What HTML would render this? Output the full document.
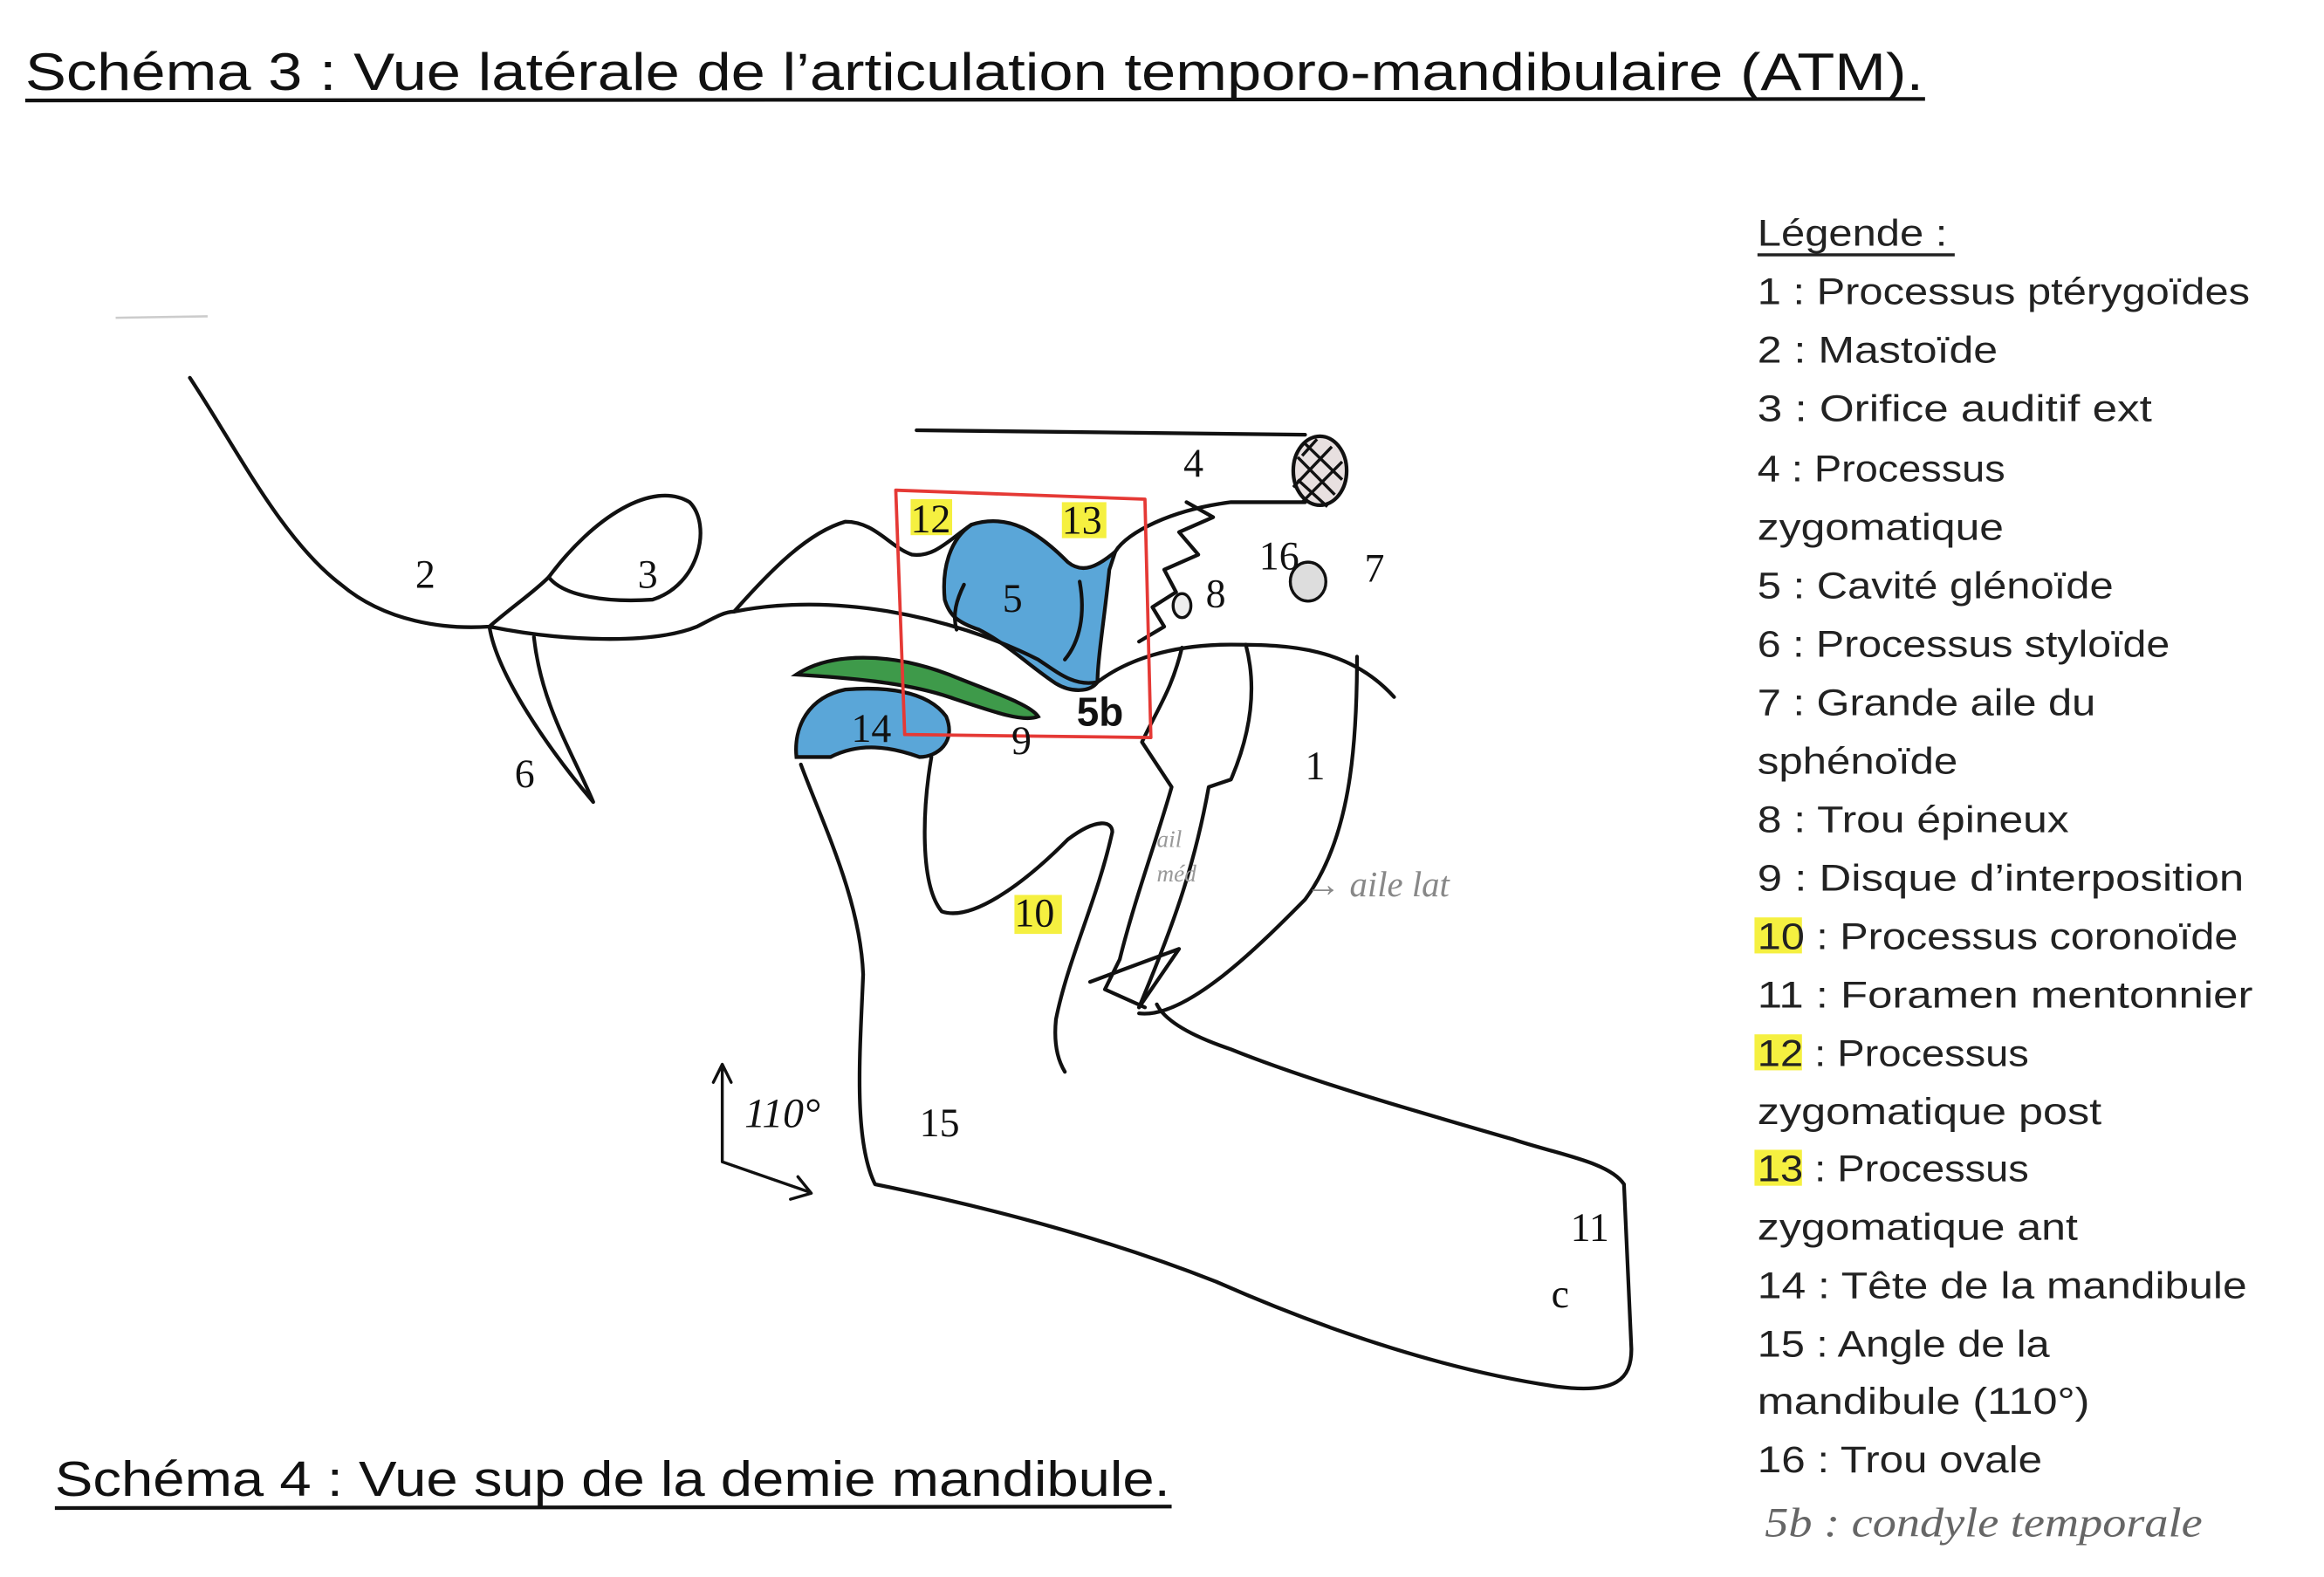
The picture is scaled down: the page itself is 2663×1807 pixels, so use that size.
<!DOCTYPE html>
<html><head><meta charset="utf-8"><style>
html,body{margin:0;padding:0;background:#fff;}
svg{display:block;}
</style></head><body>
<svg width="2663" height="1807" viewBox="0 0 1567 1052" preserveAspectRatio="none" xmlns="http://www.w3.org/2000/svg">
<rect width="1567" height="1052" fill="#fff"/>
<g font-family="Liberation Sans, sans-serif" fill="#111">
<text x="17" y="60" font-size="35" textLength="1280" lengthAdjust="spacingAndGlyphs">Schéma 3 : Vue latérale de l’articulation temporo-mandibulaire (ATM).</text>
<line x1="17" y1="67" x2="1298" y2="66" stroke="#111" stroke-width="2.5"/>
<text x="37" y="998" font-size="33" textLength="752" lengthAdjust="spacingAndGlyphs">Schéma 4 : Vue sup de la demie mandibule.</text>
<line x1="37" y1="1006" x2="790" y2="1005" stroke="#111" stroke-width="2.5"/>
</g>
<g font-family="Liberation Sans, sans-serif" fill="#222" font-size="25" lengthAdjust="spacingAndGlyphs">
<text x="1185" y="164" textLength="128" lengthAdjust="spacingAndGlyphs">Légende :</text>
<line x1="1185" y1="170" x2="1318" y2="170" stroke="#222" stroke-width="2"/>
<rect x="1183" y="612" width="32" height="24" fill="#f5f040"/>
<rect x="1183" y="690" width="32" height="24" fill="#f5f040"/>
<rect x="1183" y="767" width="32" height="24" fill="#f5f040"/>
<text x="1185" y="203" textLength="332" lengthAdjust="spacingAndGlyphs">1 : Processus ptérygoïdes</text>
<text x="1185" y="242" textLength="162" lengthAdjust="spacingAndGlyphs">2 : Mastoïde</text>
<text x="1185" y="281" textLength="266" lengthAdjust="spacingAndGlyphs">3 : Orifice auditif ext</text>
<text x="1185" y="321" textLength="167" lengthAdjust="spacingAndGlyphs">4 : Processus</text>
<text x="1185" y="360" textLength="166" lengthAdjust="spacingAndGlyphs">zygomatique</text>
<text x="1185" y="399" textLength="240" lengthAdjust="spacingAndGlyphs">5 : Cavité glénoïde</text>
<text x="1185" y="438" textLength="278" lengthAdjust="spacingAndGlyphs">6 : Processus styloïde</text>
<text x="1185" y="477" textLength="228" lengthAdjust="spacingAndGlyphs">7 : Grande aile du</text>
<text x="1185" y="516" textLength="135" lengthAdjust="spacingAndGlyphs">sphénoïde</text>
<text x="1185" y="555" textLength="210" lengthAdjust="spacingAndGlyphs">8 : Trou épineux</text>
<text x="1185" y="594" textLength="328" lengthAdjust="spacingAndGlyphs">9 : Disque d’interposition</text>
<text x="1185" y="633" textLength="324" lengthAdjust="spacingAndGlyphs">10 : Processus coronoïde</text>
<text x="1185" y="672" textLength="334" lengthAdjust="spacingAndGlyphs">11 : Foramen mentonnier</text>
<text x="1185" y="711" textLength="183" lengthAdjust="spacingAndGlyphs">12 : Processus</text>
<text x="1185" y="750" textLength="232" lengthAdjust="spacingAndGlyphs">zygomatique post</text>
<text x="1185" y="788" textLength="183" lengthAdjust="spacingAndGlyphs">13 : Processus</text>
<text x="1185" y="827" textLength="216" lengthAdjust="spacingAndGlyphs">zygomatique ant</text>
<text x="1185" y="866" textLength="330" lengthAdjust="spacingAndGlyphs">14 : Tête de la mandibule</text>
<text x="1185" y="905" textLength="197" lengthAdjust="spacingAndGlyphs">15 : Angle de la</text>
<text x="1185" y="943" textLength="224" lengthAdjust="spacingAndGlyphs">mandibule (110°)</text>
<text x="1185" y="982" textLength="192" lengthAdjust="spacingAndGlyphs">16 : Trou ovale</text>
</g>
<text x="1190" y="1025" font-family="Liberation Serif, serif" font-style="italic" font-size="28" fill="#666" textLength="295" lengthAdjust="spacingAndGlyphs">5b : condyle temporale</text>
<g fill="#f5f040">
<rect x="614" y="333" width="28" height="24"/>
<rect x="716" y="335" width="30" height="24"/>
<rect x="684" y="597" width="32" height="26"/>
</g>
<path d="M655,350 C680,342 700,355 720,375 C730,383 740,378 752,368 L748,380 C745,410 740,440 740,455 C735,462 722,462 712,456 C695,445 680,430 660,420 C645,415 640,410 637,400 C635,380 640,360 655,350 Z" fill="#5aa6d8" stroke="#111" stroke-width="2.5"/>
<path d="M537,450 C560,435 600,435 640,450 C670,462 695,470 700,478 C690,482 670,475 640,465 C610,455 570,452 537,450 Z" fill="#3e9a4a" stroke="#111" stroke-width="2.5"/>
<path d="M537,505 C535,485 545,465 570,460 C595,458 625,460 638,478 C645,495 632,505 620,505 C600,498 580,495 560,505 Z" fill="#5aa6d8" stroke="#111" stroke-width="2.5"/>
<g fill="none" stroke="#111" stroke-width="2.5" stroke-linecap="round" stroke-linejoin="round">
<path d="M128,252 C160,300 190,360 230,390 C260,415 300,420 330,418 C345,405 360,395 370,385"/>
<path d="M370,385 C400,345 440,320 465,335 C480,350 472,390 440,400 C410,402 380,398 370,385"/>
<path d="M330,418 C335,450 370,500 400,535 C385,500 365,470 360,425"/>
<path d="M330,418 C380,428 440,430 470,418 C480,413 488,408 495,408"/>
<path d="M495,408 C520,380 545,355 570,348 C590,348 600,365 615,370 C630,372 640,360 655,350"/>
<path d="M495,408 C560,395 640,410 700,440 C715,450 725,458 740,455"/>
<path d="M650,390 C645,400 642,410 645,420"/>
<path d="M728,388 C732,410 728,428 718,440"/>
<path d="M752,368 C760,355 790,340 830,335 L880,335"/>
<path d="M618,287 L880,290"/>
<path d="M800,335 L818,345 L795,355 L808,370 L785,380 L793,395 L777,405 L785,418 L768,428"/>
<path d="M740,455 C760,440 790,430 830,430 C870,430 910,432 940,465"/>
<path d="M540,510 C555,550 580,600 582,650 C580,700 575,760 590,790 C640,800 730,820 820,855 C900,890 980,915 1050,925 C1090,930 1100,920 1100,900 L1095,790 C1085,775 1050,770 1020,760 C950,740 880,720 830,700 C800,690 785,680 780,670"/>
<path d="M628,505 C622,540 620,590 635,608 C655,615 690,590 720,560 C740,545 750,548 750,555 C740,600 720,640 712,680 C710,700 715,710 718,715"/>
<path d="M797,432 C790,460 782,470 770,495 L790,525 C780,560 765,600 755,640 L745,660 L772,672"/>
<path d="M840,430 C848,460 843,490 830,520 L815,525 C805,580 790,620 768,672"/>
<path d="M915,438 C915,500 910,560 880,600 C850,630 800,680 768,676"/>
<path d="M735,655 L795,633 L768,672"/>
<path d="M604,327 L772,333 L776,492 L610,490 Z" stroke="#e53935" stroke-width="2.2"/>
<path d="M487,712 L487,775 L545,795 M538,785 L547,796 L533,800 M481,722 L487,710 L493,722" stroke-width="2"/>
</g>
<ellipse cx="890" cy="314" rx="18" ry="23" fill="#e8e0e0" stroke="#111" stroke-width="2.5"/>
<path d="M875,305 L900,330 M875,320 L895,338 M880,296 L905,320 M872,325 L898,298 M878,335 L905,308 M888,293 L878,304" stroke="#111" stroke-width="2"/>
<ellipse cx="797" cy="404" rx="6" ry="8" fill="#eee" stroke="#111" stroke-width="2"/>
<ellipse cx="882" cy="388" rx="12" ry="13" fill="#ddd" stroke="#111" stroke-width="2"/>
<g font-family="Liberation Serif, serif" font-size="27" fill="#111">
<text x="280" y="392">2</text><text x="430" y="392">3</text><text x="798" y="318">4</text>
<text x="676" y="408">5</text><text x="347" y="525">6</text><text x="813" y="405">8</text>
<text x="849" y="380">16</text><text x="920" y="388">7</text><text x="880" y="520">1</text>
<text x="682" y="503">9</text><text x="684" y="618">10</text><text x="614" y="355">12</text>
<text x="716" y="356">13</text><text x="574" y="495">14</text><text x="620" y="758">15</text>
<text x="1059" y="828">11</text><text x="1046" y="872">c</text>
</g>
<text x="726" y="484" font-family="Liberation Sans, sans-serif" font-weight="bold" font-size="27" fill="#111">5b</text>
<text x="502" y="752" font-family="Liberation Serif, serif" font-style="italic" font-size="28" fill="#111">110°</text>
<text x="880" y="598" font-family="Liberation Serif, serif" font-style="italic" font-size="24" fill="#888">→ aile lat</text>
<text x="780" y="565" font-family="Liberation Serif, serif" font-style="italic" font-size="16" fill="#999">ail</text>
<text x="780" y="588" font-family="Liberation Serif, serif" font-style="italic" font-size="16" fill="#999">méd</text>
<line x1="78" y1="212" x2="140" y2="211" stroke="#ccc" stroke-width="1.5"/>
</svg>
</body></html>
